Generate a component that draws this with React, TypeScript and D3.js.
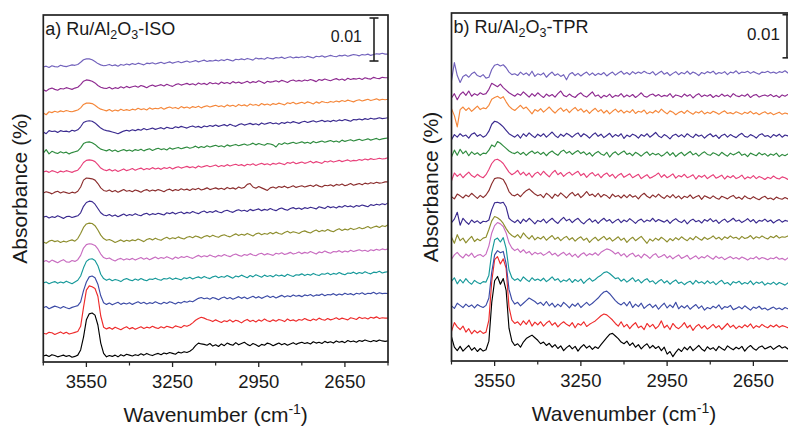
import React from 'react';
import * as d3 from 'd3';

// wavenumber grid (cm-1), 10 cm-1 steps
const WAVENUMBERS = [
3700,3690,3680,3670,3660,3650,3640,3630,3620,3610,
3600,3590,3580,3570,3560,3550,3540,3530,3520,3510,
3500,3490,3480,3470,3460,3450,3440,3430,3420,3410,
3400,3390,3380,3370,3360,3350,3340,3330,3320,3310,
3300,3290,3280,3270,3260,3250,3240,3230,3220,3210,
3200,3190,3180,3170,3160,3150,3140,3130,3120,3110,
3100,3090,3080,3070,3060,3050,3040,3030,3020,3010,
3000,2990,2980,2970,2960,2950,2940,2930,2920,2910,
2900,2890,2880,2870,2860,2850,2840,2830,2820,2810,
2800,2790,2780,2770,2760,2750,2740,2730,2720,2710,
2700,2690,2680,2670,2660,2650,2640,2630,2620,2610,
2600,2590,2580,2570,2560,2550,2540,2530,2520,2510,
2500];

const MAJOR_TICKS = [3550, 3250, 2950, 2650];
const MINOR_TICKS = [3700, 3400, 3100, 2800, 2500];

// colours, bottom trace to top trace
const COLORS = ['#000000','#EE2B2B','#3C4BA6','#17999A','#C86CC0','#8E8E2E','#3A2A8F','#8B2E2E','#E8407A','#2E8B3E','#3A2A8F','#F5873A','#8E2A90','#7262BC'];

// stacking offsets (units of 1e-4 absorbance)
const A_OFFSETS = [14,67,126,184,233,279,337,393,442,486,535,579,633,686];
const B_OFFSETS = [26,65,126,181,242,277,321,381,428,479,521,579,614,660];

// Panel a: Ru/Al2O3-ISO (units of 1e-4 absorbance)
const A0 = [0,2,-1,3,1,-2,0,2,-1,1, -3,-1,2,14,44,84,98,100,95,72, 30,6,-2,1,-1,2,-2,3,0,4, 2,0,3,1,5,2,6,3,1,4, 6,3,7,5,8,6,4,9,7,10,
 8,11,16,24,30,28,27,25,29,23, 26,22,28,24,30,27,25,31,26,29, 32,27,24,29,26,22,27,25,30,28, 24,27,30,26,29,25,28,31,27,30, 32,29,31,28,33,30,32,29,34,31,
 33,30,35,32,34,31,36,33,35,32, 36,34,37,35,33,36,34,37,35,34, 35];
const A1 = [0,-2,2,1,-3,0,3,-1,2,-2, 0,2,4,16,60,100,110,108,104,86, 40,14,10,13,9,14,11,8,12,15, 10,13,9,12,15,11,14,12,16,13, 11,15,12,16,14,12,17,15,13,18,
 16,19,24,30,34,37,35,32,30,27, 31,28,25,29,27,31,26,30,28,24, 29,32,27,30,26,31,28,33,29,27, 31,28,32,30,27,33,29,31,28,32, 30,34,31,29,33,30,35,32,30,34,
 31,33,36,32,35,33,31,36,34,32, 37,34,36,33,37,35,38,34,36,35, 35];
const A2 = [0,3,-2,1,4,2,-1,3,0,-2, 1,3,5,14,40,60,72,74,70,55, 28,12,8,11,7,10,13,8,11,9, 12,8,11,14,10,13,9,12,10,14, 11,9,13,10,14,12,9,13,11,15,
 13,16,14,18,22,24,21,23,20,24, 22,19,23,25,21,24,20,23,26,22, 25,21,24,27,23,26,22,25,28,24, 27,23,26,29,25,28,26,30,27,29, 26,30,28,31,27,30,29,32,28,31,
 30,33,29,32,30,34,31,33,30,34, 32,35,31,34,33,36,32,35,33,34, 33];
const A3 = [0,2,-2,1,3,-1,2,0,4,1, -2,2,6,16,35,50,55,56,52,40, 20,10,6,9,5,8,6,3,8,10, 7,5,9,6,10,7,5,9,8,11, 8,6,10,9,12,8,11,9,7,12,
 10,13,9,12,14,11,15,12,10,14, 16,12,15,13,17,14,11,16,14,18, 15,12,17,14,19,16,13,18,15,17, 14,19,16,18,15,20,17,15,19,18, 21,17,20,18,22,19,17,21,20,23,
 19,22,20,24,21,19,23,22,25,21, 24,22,26,23,21,25,24,27,23,25, 26];
const A4 = [0,3,-1,4,1,-2,2,5,0,-1, 3,1,5,15,32,40,42,41,38,30, 18,10,7,9,5,2,6,8,4,7, 5,8,4,7,10,6,9,5,8,11, 7,10,8,12,9,6,11,8,12,10,
 13,10,8,12,15,11,14,12,16,13, 11,15,13,17,14,12,16,18,15,13, 17,15,19,16,14,18,20,16,19,17, 15,20,18,21,17,19,22,18,20,23, 19,22,20,24,21,18,23,21,25,22,
 20,24,23,26,22,25,23,27,24,26, 28,25,27,24,28,26,29,27,30,28, 30];
const A5 = [0,-3,2,4,1,3,-1,2,0,3, 5,2,8,20,34,42,44,43,38,28, 16,8,4,6,3,-1,2,5,1,4, 2,5,3,7,4,1,6,8,5,9, 6,4,8,11,7,10,8,12,9,7,
 11,13,10,14,12,9,13,15,12,16, 13,11,15,17,14,12,16,19,15,18, 16,20,17,14,19,21,17,20,18,22, 19,23,20,18,22,25,21,24,22,20, 24,26,23,21,25,28,24,27,25,29,
 26,24,28,31,27,30,28,32,29,31, 34,31,33,36,32,35,37,34,38,36, 40];
const A6 = [0,2,-2,1,-1,3,0,-3,1,2, -1,1,3,10,25,34,37,36,30,20, 10,5,3,6,2,5,1,4,7,3, 6,4,8,5,3,7,9,5,8,6, 9,7,5,10,8,11,7,10,12,8,
 11,9,13,10,8,12,14,10,13,11, 15,12,10,14,16,13,11,15,17,14, 16,13,18,15,17,19,15,18,16,20, 17,15,19,21,18,16,20,22,19,21, 18,22,20,23,21,19,24,22,20,25,
 22,24,21,25,23,27,24,26,23,27, 25,28,26,24,29,27,30,28,31,29, 33];
const A7 = [0,3,1,-2,2,4,0,3,1,-1, 2,0,4,14,30,35,34,33,30,22, 12,6,4,7,3,6,2,5,8,4, 6,3,7,5,2,6,8,4,7,5, 8,6,3,7,9,5,8,6,10,7,
 9,6,10,8,11,7,9,12,8,10, 12,9,11,8,13,10,12,9,14,11, 13,20,22,14,11,15,12,9,6,12, 14,11,15,13,16,12,14,17,13,15, 17,14,16,18,15,19,16,14,18,17,
 19,16,20,18,21,17,19,22,18,20, 22,19,23,21,24,22,25,23,24,26, 26];
const A8 = [0,2,-1,3,1,-2,2,0,3,1, -1,2,4,12,22,27,28,27,24,17, 9,5,3,6,2,5,1,4,7,3, 5,8,4,7,9,5,8,6,10,7, 9,6,10,8,11,7,10,12,9,11,
 13,10,12,9,14,11,13,15,12,14, 16,12,15,13,17,14,16,18,15,17, 14,18,16,19,15,18,20,17,19,16, 20,18,21,19,17,22,20,23,19,21, 23,20,22,25,21,24,22,20,25,23,
 26,23,25,27,24,26,28,25,27,26, 29,27,30,28,31,29,30,32,30,31, 33];
const A9 = [0,8,-2,4,1,-1,3,0,2,-2, 1,3,5,12,22,25,26,24,20,14, 9,7,5,8,4,7,3,6,8,5, 7,4,8,6,9,5,8,10,6,9, 11,8,10,7,12,9,11,13,10,12,
 14,11,13,16,12,15,13,17,14,16, 18,15,17,14,19,16,18,20,17,19, 21,18,20,23,19,22,20,18,22,21, 19,14,22,20,24,21,23,25,22,24, 26,23,25,22,27,24,26,28,25,27,
 29,26,28,25,30,27,29,31,28,30, 32,29,31,33,30,32,34,31,33,34, 35];
const A10 = [0,-4,3,1,2,-1,3,1,2,0, 4,2,5,12,22,25,26,25,21,15, 9,5,3,2,0,-2,-4,-1,2,4, 2,5,3,6,4,8,5,7,9,6, 8,10,7,11,9,8,12,10,13,11,
 9,12,14,11,13,10,14,12,15,13, 16,13,15,17,14,18,15,13,17,19, 16,18,20,17,19,16,21,18,20,22, 19,21,18,22,20,23,21,24,22,20, 23,25,22,24,26,23,25,27,24,26,
 24,27,25,28,26,29,27,25,29,28, 30,28,31,29,32,30,31,33,31,32, 33];
const A11 = [0,-4,3,1,4,2,5,3,6,4, 3,5,7,12,20,23,23,22,18,13, 9,7,5,8,4,7,5,9,6,8, 6,9,7,11,8,10,7,12,9,11, 10,13,9,12,14,11,13,10,15,12,
 14,11,15,13,16,12,15,17,14,16, 18,15,17,14,19,16,18,15,20,17, 19,16,21,18,20,17,22,19,21,18, 22,20,23,21,19,24,22,25,21,23, 25,22,26,24,21,26,23,27,25,24,
 27,25,28,26,29,27,30,28,26,29, 31,28,30,32,29,31,33,30,32,31, 32];
const A12 = [0,-3,2,4,1,-1,3,2,5,3, 1,4,6,12,20,23,22,20,16,10, 6,4,3,6,2,5,3,7,4,8, 5,7,9,6,10,8,5,9,11,8, 10,12,9,13,10,8,12,14,11,13,
 15,12,14,11,16,13,15,12,17,14, 16,13,18,15,17,14,19,16,18,15, 17,20,16,19,17,21,18,15,20,18, 19,21,18,22,20,17,21,23,20,22, 20,23,21,24,22,19,24,22,25,23,
 21,24,26,23,25,22,27,24,26,25, 27,24,28,26,25,29,27,26,29,28, 28];
const A13 = [0,2,-1,3,1,0,4,2,1,3, 5,4,6,11,17,19,19,17,13,8, 5,3,4,6,3,5,2,6,4,7, 5,8,6,9,7,5,9,8,10,7, 9,11,8,10,12,9,11,13,10,12,
 14,11,13,15,12,14,16,13,15,14, 16,14,17,15,18,16,14,18,17,19, 17,20,18,16,21,19,20,18,22,20, 19,22,21,23,20,22,24,21,23,22, 24,22,25,23,21,25,24,26,23,25,
 27,25,24,27,26,28,25,27,29,28, 26,29,28,30,27,29,31,30,32,30, 30];

// Panel b: Ru/Al2O3-TPR (units of 1e-4 absorbance)
const B0 = [30,6,-2,8,-3,4,10,-1,5,-4, 3,-3,0,20,110,160,170,152,165,138, 50,20,10,14,6,18,26,30,34,28, 22,14,18,10,15,6,12,3,9,-2, 5,10,2,8,-3,6,12,4,9,1,
 7,3,12,20,28,36,38,32,26,18, 14,20,10,16,6,12,2,9,14,4, 10,3,8,-2,6,-10,-4,-16,-6,2, -4,6,0,8,-2,4,10,2,-3,7, 1,5,-2,8,3,-1,9,4,0,6,
 2,8,-3,5,10,3,-1,6,9,2, 5,8,1,6,10,4,7,2,8,6, 7];
const B1 = [4,24,14,8,16,2,10,-2,6,0, 5,-1,2,30,120,170,177,160,172,150, 60,30,22,26,18,28,20,30,16,25, 19,26,16,23,28,18,24,14,21,26, 20,16,24,12,22,18,26,15,20,24,
 28,34,40,44,42,36,30,22,16,26, 14,20,10,18,24,12,16,8,22,14, 20,10,16,28,12,18,8,22,14,10, 16,24,12,18,6,15,20,11,17,9, 14,20,12,17,8,15,22,13,18,10,
 16,12,19,14,21,11,17,13,20,15, 12,18,14,19,13,17,15,12,18,16, 16];
const B2 = [2,-4,8,3,-2,6,0,4,-3,5, 1,-2,3,20,80,120,130,125,128,100, 40,16,6,10,2,8,14,20,16,12, 6,10,3,12,2,8,-1,6,0,10, 4,-3,6,1,8,-2,4,10,3,8,
 14,20,28,34,36,30,22,14,8,4, 10,2,12,-2,6,0,8,-4,2,6, -2,4,-6,2,8,-3,4,-2,10,-5, 2,-3,3,-6,0,5,-4,2,-8,-2, -5,1,-3,4,-6,0,-2,3,-7,-4,
 0,-5,2,-3,-8,-1,-4,1,-6,-3, -8,-4,-1,-6,-3,-7,-2,-5,-8,-4, -7];
const B3 = [4,12,-2,8,0,10,2,-3,6,1, -2,3,2,18,70,100,104,95,105,80, 30,12,6,10,4,14,8,3,12,6, 9,5,11,3,8,14,6,10,2,7, 4,10,1,8,3,9,-1,6,11,4,
 8,14,18,24,26,22,16,10,12,4, 9,2,7,12,3,8,0,6,10,2, 5,-2,4,8,0,5,-3,3,7,-1, 2,-4,1,4,-3,6,0,3,-2,5, -1,3,-4,2,6,-2,1,-5,3,0,
 4,-3,1,-2,5,-4,2,-1,3,-5, 0,-3,2,-4,1,-2,-5,0,-3,-1, -5];
const B4 = [-6,4,10,2,-3,6,1,8,-2,3, 5,0,6,25,55,72,79,76,70,55, 32,20,14,18,10,16,8,12,4,10, 6,9,3,7,12,4,8,1,6,10, 3,8,0,6,-2,5,9,2,7,4,
 9,3,10,14,18,16,12,6,10,2, 7,-1,5,8,0,4,-3,6,2,-4, 3,7,-2,1,5,-3,2,-5,0,4, -4,-1,3,-6,-2,2,-5,0,-3,3, -2,-6,1,-4,-1,-7,-3,0,-5,-2,
 -6,-1,-4,-8,-3,-5,0,-6,-2,-4, -7,-3,-5,-1,-6,-4,-8,-3,-6,-5, -7];
const B5 = [10,-4,16,2,8,-3,5,12,0,6, 2,8,10,28,48,58,55,50,42,30, 20,14,10,16,8,20,12,6,14,4, 10,6,12,3,9,14,5,10,2,8, 12,4,9,1,7,11,3,8,-2,5,
 10,2,7,12,4,9,1,6,11,3, 8,-2,5,10,2,7,12,4,-4,6, 1,8,3,10,5,-1,7,2,9,4, 11,6,2,9,4,12,7,3,10,5, 8,13,6,10,4,11,7,13,8,10,
 5,12,7,9,14,6,11,8,13,9, 6,12,9,14,8,11,10,13,7,11, 9];
const B6 = [0,8,24,-6,10,2,-4,6,0,4, -2,3,2,6,30,46,47,45,47,36, 10,4,0,6,-2,8,2,10,4,-3, 5,2,8,-1,5,10,3,-2,6,12, 4,8,0,6,10,2,-3,4,9,1,
 6,-2,5,10,3,7,-1,4,8,0, 6,2,9,4,-2,5,8,1,6,3, 10,2,7,4,1,6,-2,5,9,3, 0,6,-3,4,8,2,5,-1,7,3, 9,2,6,-2,4,8,1,5,10,3,
 6,0,4,9,2,7,-1,5,3,8, 2,6,-1,4,7,1,5,3,6,2, 3];
const B7 = [0,-5,6,2,-3,4,0,8,2,-4, 3,-2,4,14,30,42,44,43,40,28, 12,4,2,6,0,8,14,18,12,6, 2,5,-2,8,3,-4,6,1,9,3, -3,5,10,2,7,-2,4,12,3,6,
 0,8,-1,5,2,-4,6,0,3,-3, 4,-2,5,-1,2,-5,3,8,1,-3, 4,-1,6,0,-4,3,-2,5,-3,2, -5,1,-2,4,-4,0,3,-6,2,-1, -4,2,-3,-6,1,-2,-5,0,3,-4,
 -1,-6,2,-3,-5,0,-4,-7,-2,1, -5,-3,-7,-1,-4,-6,-2,-5,-3,-6, -7];
const B8 = [-10,8,0,6,-3,4,10,2,-2,5, 0,-3,4,16,30,38,40,36,30,20, 10,4,8,14,4,10,2,8,-2,6, 10,3,12,5,-1,8,14,4,9,0, 6,10,3,8,12,2,7,-2,5,9,
 1,6,-3,4,8,0,5,-4,3,7, -2,2,6,-3,1,5,-5,0,4,-4, -1,3,8,-2,4,-3,1,6,-4,2, -1,5,-3,0,4,-6,2,-2,3,-5, 0,4,-4,-1,3,-6,1,-3,2,-5,
 -2,3,-6,-1,-4,2,-5,0,-3,-7, -2,-5,1,-4,-6,-1,-3,-7,-4,-5, -7];
const B9 = [-6,10,-2,12,2,8,-3,6,0,4, -2,3,2,10,22,18,30,26,20,14, 8,4,2,6,0,5,-2,4,8,2, 6,0,5,-3,4,8,2,-2,6,10, 3,7,0,5,9,2,6,-1,4,-4,
 3,7,1,-2,5,-6,2,6,-1,4, 8,0,3,-3,5,1,-4,2,6,-2, 3,-1,2,-4,0,6,-2,4,-5,1, 5,-3,2,7,-1,3,-4,2,6,0, -2,4,1,-3,5,0,-4,3,-1,2,
 6,-2,1,-5,3,0,-3,4,-1,2, -4,1,-2,3,-5,0,-3,1,-4,-2, -5];
const B10 = [-8,4,-2,6,0,3,-4,5,8,0, 4,-2,2,12,28,35,33,28,22,14, 6,2,-2,4,-4,6,0,8,2,-3, 5,0,6,-2,4,10,2,-3,5,0, 7,3,-2,4,8,-1,6,2,-4,3,
 8,0,5,-3,2,7,-2,4,0,6, -5,3,-1,5,2,-4,4,0,6,-2, 3,9,1,-3,4,0,-6,2,5,-1, 4,-2,6,1,-3,5,0,3,-4,2, 6,-1,3,-5,2,5,-2,4,0,-3,
 3,7,0,-2,4,1,-4,3,6,0, 2,-3,4,0,5,-2,3,1,-1,4, 2];
const B11 = [6,-10,-36,4,10,2,8,0,6,12, 4,8,6,14,28,32,35,30,34,22, 12,6,2,8,14,6,10,2,-6,4, 0,6,-2,4,10,2,-4,3,8,0, 5,-3,4,9,1,6,-2,3,-5,2,
 7,-1,4,-4,2,-6,0,5,-2,3, -4,1,-3,4,-5,0,-2,3,-6,-1, -4,2,-3,5,-1,-6,1,-2,-8,-3, 0,-5,2,-3,-7,-1,-4,1,-6,-2, -5,0,-3,-7,-2,1,-5,-3,-6,-1,
 -4,-7,-2,-5,0,-6,-3,-8,-4,-1, -6,-3,-8,-5,-2,-7,-4,-6,-9,-5, -7];
const B12 = [-4,6,-8,4,10,2,12,0,6,2, 8,4,6,16,30,26,22,28,20,14, 8,4,0,6,2,10,4,-2,6,0, 8,2,-3,5,0,4,-2,6,12,2, -1,5,0,-3,4,8,1,-2,4,10,
 0,3,-4,2,-1,5,-3,2,0,6, -2,3,-1,4,-3,2,8,0,-2,3, 5,0,4,-1,2,0,6,-3,3,1, -2,5,0,4,-4,2,6,-1,3,0, 4,-3,2,-1,5,0,3,-2,6,1,
 -1,3,0,5,-3,2,4,-2,1,3, 0,4,-1,2,-3,3,0,4,-1,2, 0];
const B13 = [-10,32,2,-14,0,4,-2,6,10,2, -1,4,-4,-2,16,26,28,24,27,20, 10,4,6,2,10,4,8,2,12,0, 6,3,8,-2,5,10,2,6,0,4, -8,5,9,2,7,1,6,10,3,8,
 2,7,4,9,1,6,10,3,8,12, 5,9,4,11,6,10,7,12,8,6, 11,3,8,12,5,9,2,7,11,4, 9,6,12,5,10,7,2,9,6,11, 8,12,5,9,7,11,4,10,8,13,
 6,10,9,12,7,11,8,5,10,9, 12,8,10,7,11,9,13,8,10,9, 9];

const PANEL_A_SERIES = [A0,A1,A2,A3,A4,A5,A6,A7,A8,A9,A10,A11,A12,A13];
const PANEL_B_SERIES = [B0,B1,B2,B3,B4,B5,B6,B7,B8,B9,B10,B11,B12,B13];

const UNIT = 1e-4;
const FONT = '"Liberation Sans", Arial, Helvetica, sans-serif';

type PanelProps = {
  id: string;
  left: number; right: number; top: number; bottom: number;
  series: number[][];
  offsets: number[];
  label: string;
  suffix: string;
  scaleBarX: number;
  scaleBarBottom: number;
  scaleTextX: number;
  scaleTextY: number;
  scaleFont: number;
  yLabelX: number;
};

function Panel(p: PanelProps) {
  const x = d3.scaleLinear().domain([3700, 2500]).range([p.left, p.right]);
  const y = d3.scaleLinear().domain([0, 0.0807]).range([p.bottom, p.top]);
  const line = d3.line<number>()
    .defined((v, i) => WAVENUMBERS[i] !== undefined && Number.isFinite(v))
    .x((_, i) => x(WAVENUMBERS[i]))
    .y((v) => y(v * UNIT));
  const midX = (p.left + p.right) / 2;
  const barTop = y(p.scaleBarBottom + 0.01);
  const barBot = y(p.scaleBarBottom);
  return (
    <g>
      <defs>
        <clipPath id={`clip-${p.id}`}>
          <rect x={p.left} y={p.top} width={p.right - p.left} height={p.bottom - p.top} />
        </clipPath>
      </defs>
      <g clipPath={`url(#clip-${p.id})`}>
        {p.series.map((s, k) => (
          <path key={k}
            d={line(s.map(v => v + p.offsets[k])) || ''}
            fill="none" stroke={COLORS[k]} strokeWidth={1.15} strokeLinejoin="round" />
        ))}
      </g>
      <rect x={p.left} y={p.top} width={p.right - p.left} height={p.bottom - p.top}
        fill="none" stroke="#222" strokeWidth={1.7} />
      {MAJOR_TICKS.map(t => (
        <g key={t}>
          <line x1={x(t)} x2={x(t)} y1={p.bottom} y2={p.bottom + 5} stroke="#222" strokeWidth={1.3} />
          <text x={x(t)} y={p.bottom + 26} textAnchor="middle" fontSize={18.5} fontFamily={FONT} fill="#1a1a1a">{t}</text>
        </g>
      ))}
      {MINOR_TICKS.map(t => (
        <line key={t} x1={x(t)} x2={x(t)} y1={p.bottom} y2={p.bottom + 3.5} stroke="#222" strokeWidth={1.2} />
      ))}
      <text x={p.left + 2} y={p.top + 20} fontSize={18} fontFamily={FONT} fill="#1a1a1a">
        {p.label} Ru/Al<tspan fontSize={12.5} dy={4}>2</tspan><tspan dy={-4}>O</tspan><tspan fontSize={12.5} dy={4}>3</tspan><tspan dy={-4}>-{p.suffix}</tspan>
      </text>
      <text x={p.scaleTextX} y={p.scaleTextY} textAnchor="end" fontSize={p.scaleFont} fontFamily={FONT} fill="#1a1a1a">0.01</text>
      <line x1={p.scaleBarX} x2={p.scaleBarX} y1={barTop} y2={barBot} stroke="#222" strokeWidth={1.6} />
      <line x1={p.scaleBarX - 4.5} x2={p.scaleBarX + 4.5} y1={barTop} y2={barTop} stroke="#222" strokeWidth={1.6} />
      <line x1={p.scaleBarX - 4.5} x2={p.scaleBarX + 4.5} y1={barBot} y2={barBot} stroke="#222" strokeWidth={1.6} />
      <text x={midX} y={p.bottom + 60} textAnchor="middle" fontSize={21} fontFamily={FONT} fill="#1a1a1a">
        Wavenumber (cm<tspan fontSize={14} dy={-8}>-1</tspan><tspan dy={8}>)</tspan>
      </text>
      <text transform={`translate(${p.yLabelX},${(p.top + p.bottom) / 2}) rotate(-90)`} textAnchor="middle"
        fontSize={21} fontFamily={FONT} fill="#1a1a1a">Absorbance (%)</text>
    </g>
  );
}

export default function App() {
  return (
    <svg width={788} height={428} style={{ position: 'absolute', left: 0, top: 0, background: '#fff' }}>
      <rect x={0} y={0} width={788} height={428} fill="#fff" />
      <Panel id="a" left={43.3} right={388} top={15} bottom={362}
        series={PANEL_A_SERIES} offsets={A_OFFSETS} label="a)" suffix="ISO"
        scaleBarX={374} scaleBarBottom={0.0700} scaleTextX={362} scaleTextY={42} scaleFont={16}
        yLabelX={27} />
      <Panel id="b" left={451.5} right={796.5} top={13} bottom={361}
        series={PANEL_B_SERIES} offsets={B_OFFSETS} label="b)" suffix="TPR"
        scaleBarX={787} scaleBarBottom={0.0703} scaleTextX={780} scaleTextY={40} scaleFont={17}
        yLabelX={438} />
    </svg>
  );
}
